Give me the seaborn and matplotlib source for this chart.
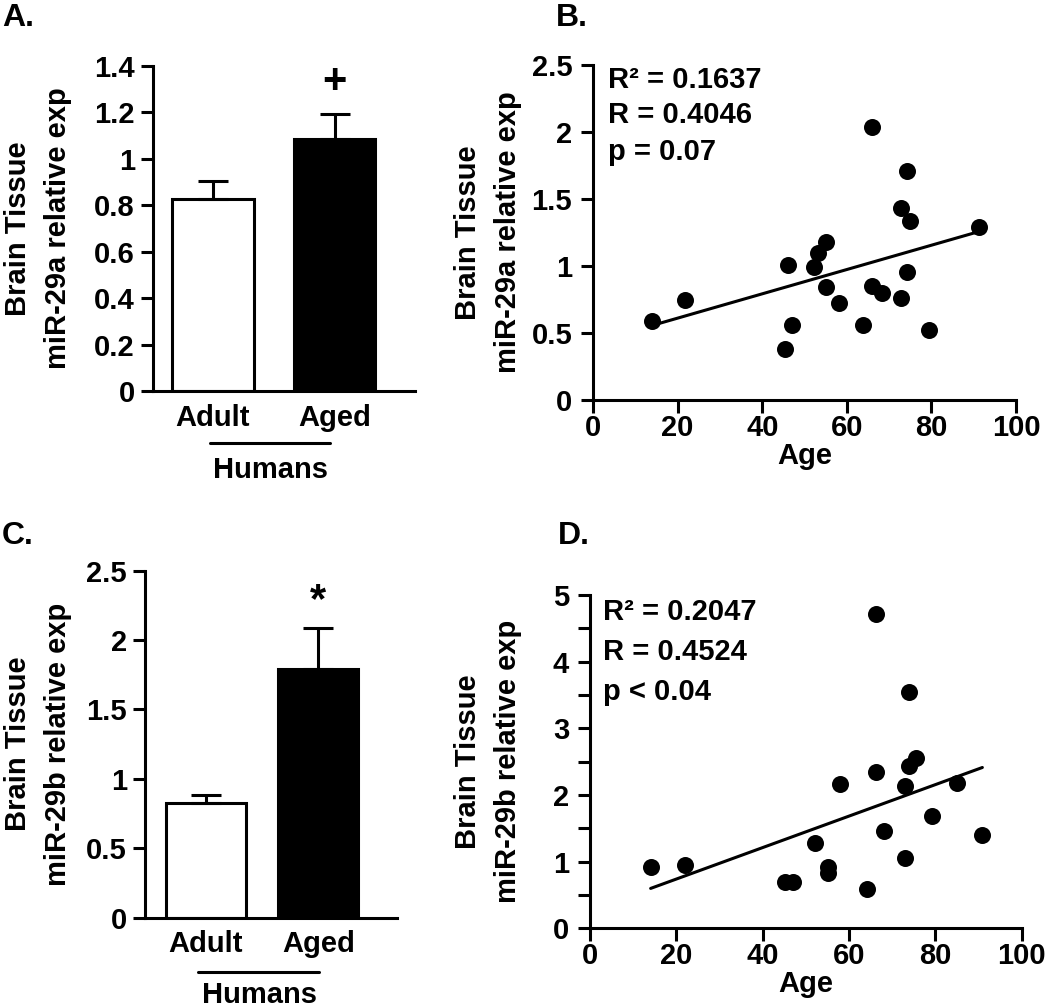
import matplotlib
matplotlib.use('Agg')
import matplotlib.pyplot as plt
from matplotlib.ticker import FuncFormatter, MultipleLocator
import seaborn as sns
import pandas as pd
import numpy as np

# bar panels (A: miR-29a, C: miR-29b)
groups = ['Adult', 'Aged']
a_means = [0.826, 1.084]
a_sem = [0.078, 0.108]
c_means = [0.824, 1.79]
c_sem = [0.06, 0.30]

# scatter panels (B: miR-29a vs age, D: miR-29b vs age)
b_age = [14, 21.7, 46.0, 47.1, 45.3, 52.2, 53.2, 55.0, 55.0, 58.2, 66.0,
         66.0, 68.2, 63.9, 74.1, 72.9, 74.9, 74.1, 72.9, 79.3, 91.2]
b_exp = [0.59, 0.746, 1.007, 0.56, 0.378, 0.995, 1.095, 1.18, 0.846, 0.72, 2.035,
         0.85, 0.80, 0.56, 1.71, 1.43, 1.336, 0.958, 0.759, 0.52, 1.29]
d_age = [14.05, 22.0, 45.2, 47.1, 52.1, 55.1, 55.1, 57.9, 64.1, 66.2,
         66.2, 68.1, 73.0, 73.0, 74.0, 74.0, 75.5, 79.3, 85.1, 90.9]
d_exp = [0.925, 0.95, 0.69, 0.69, 1.275, 0.925, 0.825, 2.16, 0.59, 4.71,
         2.34, 1.46, 2.135, 1.06, 3.55, 2.44, 2.55, 1.69, 2.175, 1.40]

sns.set_style('ticks')
plt.rcParams['font.family'] = ['Liberation Sans', 'DejaVu Sans']
plt.rcParams['font.weight'] = 'bold'
plt.rcParams['axes.labelweight'] = 'bold'
plt.rcParams['axes.linewidth'] = 2.2
plt.rcParams['text.color'] = 'black'
plt.rcParams['axes.labelcolor'] = 'black'

FS = 21
LW = 2.2
fmt = FuncFormatter(lambda v, p: '%g' % round(v, 3))

fig = plt.figure(figsize=(10.5, 10.07), dpi=100)


def style_axis(ax):
    sns.despine(ax=ax)
    ax.tick_params(axis='both', width=LW, length=9, labelsize=FS, pad=4,
                   direction='out', color='black', labelcolor='black')
    for s in ax.spines.values():
        s.set_color('black')


def bar_panel(ax, means, sem, ymax, ystep, sig, sig_y, ylabel, ylab_x, xlim, width, hum):
    df = pd.DataFrame({'group': groups, 'value': means})
    sns.barplot(data=df, x='group', y='value', hue='group', palette=['white', 'black'],
                edgecolor='black', linewidth=LW, width=width, errorbar=None,
                legend=False, ax=ax)
    ax.errorbar(x=[0, 1], y=means, yerr=[[0, 0], sem], fmt='none', ecolor='black',
                elinewidth=LW, capsize=11, capthick=LW, zorder=1)
    style_axis(ax)
    ax.set_ylim(0, ymax)
    ax.set_xlim(*xlim)
    ax.yaxis.set_major_locator(MultipleLocator(ystep))
    ax.yaxis.set_major_formatter(fmt)
    ax.tick_params(axis='x', length=0, pad=9)
    ax.set_xlabel('')
    ax.set_ylabel(ylabel, fontsize=FS, fontweight='bold', linespacing=1.55)
    ax.yaxis.set_label_coords(ylab_x, 0.5)
    ax.text(1, sig_y, sig, ha='center', va='center', fontsize=30, fontweight='bold')
    x0, x1, ly, ty, tx = hum
    ax.plot([x0, x1], [ly, ly], color='black', lw=LW, transform=ax.transAxes, clip_on=False)
    ax.text(tx, ty, 'Humans', transform=ax.transAxes, ha='center', va='center', fontsize=FS)


def scatter_panel(ax, age, expr, ymax, ylabel, ylab_x, stats, sx, sys_):
    df = pd.DataFrame({'Age': age, 'exp': expr})
    sns.regplot(data=df, x='Age', y='exp', ci=None, ax=ax,
                scatter_kws={'s': 150, 'color': 'black', 'linewidths': 0, 'alpha': 1},
                line_kws={'color': 'black', 'lw': LW})
    style_axis(ax)
    ax.set_xlim(0, 100)
    ax.set_ylim(0, ymax)
    ax.xaxis.set_major_locator(MultipleLocator(20))
    ax.xaxis.set_major_formatter(fmt)
    ax.tick_params(axis='x', pad=1)
    ax.tick_params(axis='y', pad=6)
    ax.set_xlabel('Age', fontsize=FS, fontweight='bold', labelpad=0)
    ax.set_ylabel(ylabel, fontsize=FS, fontweight='bold', linespacing=1.55)
    ax.yaxis.set_label_coords(ylab_x, 0.5)
    for t, y in zip(stats, sys_):
        ax.text(sx, y, t, transform=ax.transAxes, ha='left', va='center', fontsize=FS)


axA = fig.add_axes([0.1457, 0.6117, 0.2495, 0.3227])
bar_panel(axA, a_means, a_sem, 1.4, 0.2, '+', 1.33,
          'Brain Tissue\nmiR-29a relative exp', -0.31, (-0.49, 1.66), 0.67,
          (0.2176, 0.675, -0.16, -0.243, 0.447))

axC = fig.add_axes([0.1381, 0.0887, 0.24, 0.3446])
bar_panel(axC, c_means, c_sem, 2.5, 0.5, '*', 2.28,
          'Brain Tissue\nmiR-29b relative exp', -0.29, (-0.54, 1.70), 0.71,
          (0.209, 0.69, -0.156, -0.222, 0.456))

axB = fig.add_axes([0.5648, 0.6028, 0.4029, 0.3327])
scatter_panel(axB, b_age, b_exp, 2.5, 'Brain Tissue\nmiR-29a relative exp', -0.168,
              ['R² = 0.1637', 'R = 0.4046', 'p = 0.07'], 0.035, [0.955, 0.85, 0.74])
axB.yaxis.set_major_locator(MultipleLocator(0.5))
axB.yaxis.set_major_formatter(fmt)

axD = fig.add_axes([0.5619, 0.0782, 0.4111, 0.331])
scatter_panel(axD, d_age, d_exp, 5, 'Brain Tissue\nmiR-29b relative exp', -0.158,
              ['R² = 0.2047', 'R = 0.4524', 'p < 0.04'], 0.03, [0.95, 0.83, 0.71])
axD.yaxis.set_major_locator(MultipleLocator(1))
axD.yaxis.set_minor_locator(MultipleLocator(0.5))
axD.yaxis.set_major_formatter(fmt)
axD.tick_params(axis='y', which='minor', width=LW, length=9, color='black')

for lab, x, y in [('A.', 0.002, 0.997), ('B.', 0.529, 0.997), ('C.', 0.002, 0.483), ('D.', 0.531, 0.483)]:
    fig.text(x, y, lab, fontsize=23, fontweight='bold', ha='left', va='top')

fig.savefig('out.png', dpi=100)
